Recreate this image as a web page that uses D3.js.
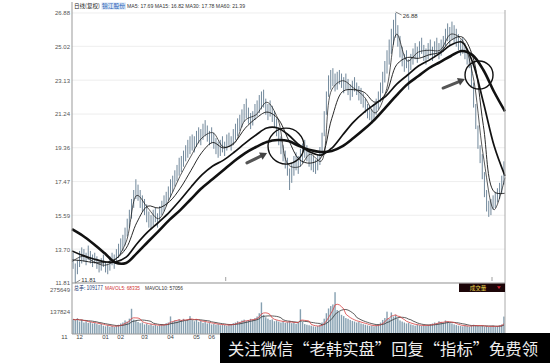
<!DOCTYPE html>
<html lang="zh">
<head>
    <meta charset="UTF-8">
    <title>锦江股份 日线</title>
    <style>
        *{
            margin: 0;
            padding: 0;
        }
        body{
            background: #fff;
        }
        #chart{
            display: block;
            font-family: "Liberation Sans", "DejaVu Sans", sans-serif;
        }
        .cjk{
            font-family: "Noto Sans CJK SC", sans-serif;
        }
    </style>
</head>
<body>
<svg id="chart" width="550" height="363"></svg>
<script src="https://cdn.jsdelivr.net/npm/d3@7/dist/d3.min.js"></script>
<script>
    /*价格轴刻度*/
    var priceTicks = [11.81, 13.70, 15.59, 17.47, 19.36, 21.24, 23.13, 25.02, 26.88];
    /*成交量刻度*/
    var volTicks = [137824, 275649];
    /*月份标签及所在K线序号*/
    var monthLabels = ["11", "12", "01", "02", "03", "04", "05", "06"];
    var monthBars = [-4, 3, 15, 22, 33, 45, 57, 64];

    /*每根K线的最低价、最高价*/
    var lows = [
        12.6, 11.81, 12.3, 12.7, 12.9, 13.0, 12.8, 13.1, 12.9, 12.7,
        12.9, 12.6, 12.4, 12.5, 12.7, 12.4, 12.3, 12.5, 12.8, 12.6,
        12.9, 13.2, 13.4, 13.6, 13.9, 14.4, 14.9, 15.4, 16.0, 16.5,
        16.4, 16.0, 15.8, 15.6, 15.2, 14.9, 14.8, 15.0, 15.2, 14.9,
        15.3, 15.6, 15.8, 16.1, 16.4, 16.6, 16.9, 17.2, 17.5, 17.8,
        18.0, 18.3, 18.6, 18.8, 19.0, 19.2, 19.1, 19.4, 19.6, 19.5,
        19.8, 20.0, 19.7, 19.5, 19.6, 19.3, 19.0, 18.8, 18.9, 19.1,
        18.9, 19.2, 19.4, 19.2, 19.5, 19.8, 20.0, 20.3, 20.5, 20.8,
        21.0, 20.7, 20.4, 20.6, 20.9, 21.1, 21.3, 21.5, 21.6, 21.2,
        20.9, 21.1, 20.8, 20.5, 20.0, 19.5, 19.0, 18.6, 18.2, 17.8,
        17.0, 17.4, 17.8, 18.1, 17.9, 18.3, 18.5, 18.8, 18.6, 18.3,
        18.1, 18.0, 17.9, 18.1, 18.4, 19.0, 20.0, 21.2, 22.2, 22.6,
        22.8, 22.5, 22.6, 22.9, 22.7, 22.4, 22.6, 22.3, 22.0, 22.2,
        22.5, 22.3, 22.0, 21.8, 21.6, 21.3, 21.0, 20.9, 20.7, 20.9,
        21.2, 21.5, 21.9, 22.4, 23.0, 23.5, 24.0, 24.6, 25.1, 25.5,
        25.0, 24.4, 23.9, 23.6, 23.8, 22.6, 23.7, 24.0, 24.3, 24.1,
        24.4, 24.6, 24.2, 24.0, 24.3, 24.5, 24.2, 24.4, 24.6, 24.3,
        24.5, 24.7, 25.0, 25.3, 25.1, 25.4, 25.2, 25.0, 24.8, 24.5,
        24.6, 24.3, 24.0, 23.8, 22.8, 21.6, 20.4, 19.3, 18.5, 17.6,
        16.6, 15.8, 15.5, 15.6, 15.9, 16.0, 16.3, 16.5, 16.8, 17.3
    ];
    var highs = [
        13.5, 12.9, 13.1, 13.6, 13.8, 13.7, 13.5, 13.9, 13.6, 13.4,
        13.5, 13.3, 13.1, 13.2, 13.4, 13.0, 12.9, 13.3, 13.5, 13.4,
        13.7, 14.0, 14.3, 14.5, 14.9, 15.4, 15.9, 16.5, 17.0, 17.6,
        17.3, 17.0, 16.7, 16.5, 16.2, 15.8, 15.6, 15.9, 16.0, 15.7,
        16.1, 16.4, 16.7, 16.9, 17.2, 17.6, 17.8, 18.1, 18.4, 18.8,
        18.9, 19.2, 19.5, 19.8, 20.0, 20.1, 20.0, 20.3, 20.5, 20.4,
        20.7, 20.9, 20.6, 20.3, 20.5, 20.2, 19.9, 19.7, 19.8, 20.0,
        19.7, 20.1, 20.2, 20.0, 20.4, 20.7, 21.0, 21.2, 21.5, 21.8,
        22.1, 21.6, 21.3, 21.4, 21.8, 22.0, 22.3, 22.5, 22.6, 22.1,
        21.8, 22.0, 21.7, 21.4, 21.0, 20.5, 20.0, 19.5, 19.2, 18.8,
        18.2, 18.5, 18.9, 19.1, 18.9, 19.3, 19.6, 19.8, 19.5, 19.2,
        19.0, 18.9, 18.7, 19.0, 19.4, 20.2, 21.4, 22.5, 23.4, 23.7,
        23.8, 23.5, 23.6, 23.7, 23.5, 23.3, 23.5, 23.2, 22.9, 23.1,
        23.3, 23.0, 22.8, 22.7, 22.4, 22.1, 21.8, 21.7, 21.5, 21.8,
        22.1, 22.5, 23.0, 23.6, 24.2, 24.8, 25.4, 26.0, 26.5, 26.88,
        26.2, 25.6, 25.0, 24.6, 24.8, 24.3, 24.6, 24.9, 25.2, 25.0,
        25.3, 25.5, 25.1, 24.9, 25.2, 25.4, 25.0, 25.3, 25.5, 25.2,
        25.4, 25.6, 26.0, 26.3, 26.1, 26.4, 26.2, 26.0, 25.7, 25.4,
        25.5, 25.2, 24.9, 24.7, 24.0, 23.0, 21.8, 20.6, 19.5, 19.0,
        18.0, 17.0, 16.4, 16.5, 16.7, 16.9, 17.1, 17.4, 17.8, 18.6
    ];
    /*成交量*/
    var volumes = [
        92000, 85000, 98000, 78000, 88000, 72000, 80000, 69000, 75000, 66000,
        70000, 62000, 58000, 64000, 52000, 48000, 55000, 46000, 50000, 44000,
        52000, 58000, 66000, 72000, 85000, 78000, 96000, 158000, 90000, 82000,
        75000, 68000, 72000, 60000, 65000, 56000, 62000, 52000, 58000, 50000,
        55000, 62000, 58000, 68000, 72000, 110000, 78000, 85000, 80000, 92000,
        88000, 95000, 84000, 90000, 112000, 86000, 80000, 92000, 76000, 82000,
        70000, 78000, 66000, 72000, 60000, 64000, 58000, 62000, 55000, 60000,
        56000, 52000, 58000, 62000, 68000, 72000, 80000, 76000, 85000, 90000,
        82000, 88000, 95000, 92000, 100000, 110000, 130000, 198000, 120000, 105000,
        96000, 88000, 92000, 80000, 85000, 78000, 72000, 80000, 70000, 74000,
        82000, 68000, 72000, 64000, 70000, 155000, 75000, 62000, 58000, 55000,
        52000, 48000, 46000, 50000, 58000, 72000, 96000, 130000, 160000, 175000,
        185000, 262000, 150000, 140000, 120000, 112000, 100000, 95000, 88000, 82000,
        78000, 72000, 76000, 66000, 62000, 58000, 54000, 50000, 52000, 48000,
        56000, 62000, 72000, 88000, 100000, 140000, 95000, 135000, 110000, 120000,
        98000, 85000, 78000, 72000, 66000, 70000, 60000, 56000, 52000, 58000,
        54000, 50000, 56000, 52000, 58000, 62000, 66000, 72000, 68000, 80000,
        76000, 72000, 85000, 78000, 70000, 66000, 60000, 56000, 52000, 50000,
        48000, 54000, 50000, 46000, 52000, 58000, 55000, 50000, 48000, 52000,
        46000, 50000, 44000, 48000, 52000, 46000, 50000, 54000, 60000, 109177
    ];

    /*均线，每5根K线读一个点*/
    var ma5 = [13.0, 13.3, 13.0, 12.8, 13.1, 14.1, 16.7, 16.0, 15.4, 16.5,
        17.8, 18.9, 19.9, 20.2, 19.4, 19.6, 20.9, 21.2, 21.9, 21.0,
        18.4, 18.3, 19.0, 18.6, 22.6, 23.1, 22.7, 22.2, 21.3, 22.5,
        25.7, 24.2, 24.7, 24.8, 24.8, 25.7, 25.4, 23.5, 18.9, 15.9, 17.69];
    var ma15 = [13.1, 13.05, 12.95, 12.95, 13.15, 13.75, 15.2, 16.1, 16.0, 16.35,
        17.1, 18.1, 19.1, 19.65, 19.35, 19.65, 20.45, 21.0, 21.35, 21.0,
        19.8, 18.7, 18.5, 18.8, 21.0, 22.5, 22.6, 22.45, 21.9, 22.4,
        24.0, 24.4, 24.35, 24.55, 24.7, 25.35, 25.55, 24.5, 20.6, 16.9, 16.82];
    var ma30 = [13.6, 13.35, 13.15, 13.0, 12.98, 13.25, 14.0, 14.66, 15.2, 15.77,
        16.44, 17.17, 17.84, 18.34, 18.67, 19.12, 19.62, 20.07, 20.46, 20.46,
        20.07, 19.51, 19.12, 18.95, 19.34, 20.07, 20.79, 21.35, 21.80, 22.24,
        22.91, 23.42, 23.92, 24.25, 24.64, 25.09, 25.26, 24.14, 21.9, 19.45, 17.78];
    var ma60 = [14.82, 14.45, 13.99, 13.48, 12.95, 12.93, 13.48, 14.10, 14.71, 15.33,
        15.88, 16.50, 17.11, 17.61, 18.12, 18.62, 19.06, 19.40, 19.68, 19.79,
        19.73, 19.45, 19.23, 19.12, 19.18, 19.45, 19.90, 20.40, 20.96, 21.63,
        22.30, 22.91, 23.36, 23.81, 24.14, 24.48, 24.76, 24.53, 23.70, 22.47, 21.39];
    var maNames = ["MA5", "MA15", "MA30", "MA60"];
    var maLast = [17.69, 16.82, 17.78, 21.39];

    /*标注：圆圈与箭头（K线序号, 价格）*/
    var circles = [[98.85, 19.45, 18], [188.0, 23.42, 14]];
    var arrows = [[80.8, 18.51, 90.1, 19.06], [171.4, 22.69, 181.5, 23.19]];
    var markBars = [71, 194];

    drawChart();

    function movingAvg(arr, n) {
        return arr.map(function (v, i) {
            return d3.mean(arr.slice(Math.max(0, i - n + 1), i + 1));
        });
    }

    function drawChart() {
        var svg = d3.select("#chart");
        var N = highs.length;
        var left = 72, right = 505;
        var x = d3.scaleLinear().domain([0, N]).range([left, right]);
        var y = d3.scaleLinear().domain([11.81, 26.88]).range([283, 13]);
        var yv = d3.scaleLinear().domain([0, 275649]).range([334, 290]);

        /*网格线*/
        svg.append("g").selectAll("line")
            .data(priceTicks)
            .enter()
            .append("line")
            .attr("x1", left).attr("x2", right)
            .attr("y1", function (d) { return y(d); })
            .attr("y2", function (d) { return y(d); })
            .attr("stroke", "#e6e6e6")
            .attr("stroke-width", 0.7);

        /*K线*/
        svg.append("g").selectAll("line")
            .data(d3.range(N))
            .enter()
            .append("line")
            .attr("x1", function (i) { return x(i + 0.5); })
            .attr("x2", function (i) { return x(i + 0.5); })
            .attr("y1", function (i) { return y(lows[i]); })
            .attr("y2", function (i) { return y(highs[i]); })
            .attr("stroke", "#71889b")
            .attr("stroke-width", 1);

        /*均线*/
        var maLine = d3.line()
            .x(function (d, k) { return x(k * 5); })
            .y(function (d) { return y(d); })
            .curve(d3.curveCatmullRom.alpha(0.5));
        var maSets = [[ma60, 2.6], [ma30, 1.7], [ma15, 0.9], [ma5, 0.7]];
        maSets.forEach(function (m) {
            svg.append("path")
                .attr("d", maLine(m[0]))
                .attr("fill", "none")
                .attr("stroke", "#111")
                .attr("stroke-width", m[1]);
        });

        /*圆圈*/
        svg.append("g").selectAll("circle")
            .data(circles)
            .enter()
            .append("circle")
            .attr("cx", function (d) { return x(d[0]); })
            .attr("cy", function (d) { return y(d[1]); })
            .attr("r", function (d) { return d[2]; })
            .attr("fill", "none")
            .attr("stroke", "#111")
            .attr("stroke-width", 1.4);

        /*箭头*/
        arrows.forEach(function (a) {
            var x1 = x(a[0]), y1 = y(a[1]), x2 = x(a[2]), y2 = y(a[3]);
            var ang = Math.atan2(y2 - y1, x2 - x1);
            var bx = x2 - 7 * Math.cos(ang), by = y2 - 7 * Math.sin(ang);
            svg.append("line")
                .attr("x1", x1).attr("y1", y1)
                .attr("x2", bx).attr("y2", by)
                .attr("stroke", "#555")
                .attr("stroke-width", 3)
                .attr("stroke-linecap", "round");
            var px = -Math.sin(ang) * 4, py = Math.cos(ang) * 4;
            svg.append("path")
                .attr("d", "M" + x2 + "," + y2 + "L" + (bx + px) + "," + (by + py) + "L" + (bx - px) + "," + (by - py) + "Z")
                .attr("fill", "#444");
        });

        /*最高最低价标注*/
        var lowIdx = d3.minIndex(lows), highIdx = d3.maxIndex(highs);
        var lx = x(lowIdx + 0.5), ly = y(lows[lowIdx]);
        svg.append("line").attr("x1", lx).attr("y1", ly).attr("x2", lx + 5).attr("y2", ly - 3)
            .attr("stroke", "#333").attr("stroke-width", 0.6);
        svg.append("text").attr("x", lx + 6).attr("y", ly - 1.5)
            .attr("font-size", 6).attr("fill", "#333")
            .text(d3.format(".2f")(lows[lowIdx]));
        var hx = x(highIdx + 0.5), hy = y(highs[highIdx]);
        svg.append("line").attr("x1", hx).attr("y1", hy - 1).attr("x2", hx + 6).attr("y2", hy + 2)
            .attr("stroke", "#333").attr("stroke-width", 0.6);
        svg.append("text").attr("x", hx + 7).attr("y", hy + 4.5)
            .attr("font-size", 6).attr("fill", "#333")
            .text(d3.format(".2f")(highs[highIdx]));

        /*小刻度标记*/
        svg.append("g").selectAll("line")
            .data(markBars)
            .enter()
            .append("line")
            .attr("x1", function (d) { return x(d); })
            .attr("x2", function (d) { return x(d); })
            .attr("y1", 277).attr("y2", 281)
            .attr("stroke", "#777").attr("stroke-width", 0.7);

        /*成交量柱*/
        svg.append("g").selectAll("rect")
            .data(volumes)
            .enter()
            .append("rect")
            .attr("x", function (d, i) { return x(i + 0.5) - 0.7; })
            .attr("width", 1.4)
            .attr("y", function (d) { return yv(d); })
            .attr("height", function (d) { return yv(0) - yv(d); })
            .attr("fill", "#86a0b1");

        var volLine = d3.line()
            .x(function (d, i) { return x(i + 0.5); })
            .y(function (d) { return yv(d); });
        svg.append("path").attr("d", volLine(movingAvg(volumes, 10)))
            .attr("fill", "none").attr("stroke", "#333").attr("stroke-width", 0.8);
        svg.append("path").attr("d", volLine(movingAvg(volumes, 5)))
            .attr("fill", "none").attr("stroke", "#d84040").attr("stroke-width", 0.8);

        /*边框*/
        svg.append("line").attr("x1", left).attr("x2", left).attr("y1", 2).attr("y2", 334)
            .attr("stroke", "#999").attr("stroke-width", 1);
        svg.append("line").attr("x1", right).attr("x2", right).attr("y1", 10).attr("y2", 334)
            .attr("stroke", "#aaa").attr("stroke-width", 1);
        svg.append("line").attr("x1", left).attr("x2", right).attr("y1", 283).attr("y2", 283)
            .attr("stroke", "#999").attr("stroke-width", 1);
        svg.append("line").attr("x1", left).attr("x2", right).attr("y1", 334).attr("y2", 334)
            .attr("stroke", "#999").attr("stroke-width", 1);

        /*坐标轴*/
        var yAxis = svg.append("g")
            .attr("transform", "translate(" + left + ",0)")
            .call(d3.axisLeft(y).tickValues(priceTicks).tickFormat(d3.format(".2f")).tickSize(0).tickPadding(2));
        yAxis.select(".domain").remove();
        yAxis.attr("font-size", 6).attr("font-family", "Liberation Sans, sans-serif");
        yAxis.selectAll("text").attr("fill", "#555");

        var vAxis = svg.append("g")
            .attr("transform", "translate(" + left + ",0)")
            .call(d3.axisLeft(yv).tickValues(volTicks).tickFormat(d3.format("d")).tickSize(0).tickPadding(2));
        vAxis.select(".domain").remove();
        vAxis.attr("font-size", 6).attr("font-family", "Liberation Sans, sans-serif");
        vAxis.selectAll("text").attr("fill", "#555");

        svg.append("g").selectAll("text")
            .data(monthLabels)
            .enter()
            .append("text")
            .attr("x", function (d, i) { return x(monthBars[i] + 0.5); })
            .attr("y", 339)
            .attr("text-anchor", "middle")
            .attr("font-size", 6)
            .attr("fill", "#444")
            .text(function (d) { return d; });

        /*顶部标题*/
        svg.append("text").attr("class", "cjk").attr("x", 74).attr("y", 8)
            .attr("font-size", 6).attr("fill", "#222")
            .attr("textLength", 26).attr("lengthAdjust", "spacingAndGlyphs")
            .text("日线(复权)");
        svg.append("rect").attr("x", 101.5).attr("y", 2.5).attr("width", 24.5).attr("height", 7)
            .attr("fill", "#d9e6f5");
        svg.append("text").attr("class", "cjk").attr("x", 102).attr("y", 8)
            .attr("font-size", 6).attr("fill", "#2a62b8")
            .attr("textLength", 23).attr("lengthAdjust", "spacingAndGlyphs")
            .text("锦江股份");
        var maText = maNames.map(function (n, i) { return n + ": " + maLast[i].toFixed(2); }).join(" ");
        svg.append("text").attr("x", 127).attr("y", 8)
            .attr("font-size", 6).attr("fill", "#333")
            .attr("textLength", 118).attr("lengthAdjust", "spacingAndGlyphs")
            .text(maText);

        /*成交量标题*/
        svg.append("text").attr("class", "cjk").attr("x", 74).attr("y", 290)
            .attr("font-size", 6).attr("fill", "#1d3b73")
            .attr("textLength", 29).attr("lengthAdjust", "spacingAndGlyphs")
            .text("总手: " + volumes[N - 1]);
        svg.append("text").attr("x", 105).attr("y", 290)
            .attr("font-size", 6).attr("fill", "#d03030")
            .attr("textLength", 35).attr("lengthAdjust", "spacingAndGlyphs")
            .text("MAVOL5: 68335");
        svg.append("text").attr("x", 145).attr("y", 290)
            .attr("font-size", 6).attr("fill", "#333")
            .attr("textLength", 38).attr("lengthAdjust", "spacingAndGlyphs")
            .text("MAVOL10: 57056");

        /*成交量按钮*/
        svg.append("rect").attr("x", 459).attr("y", 283.5).attr("width", 46).attr("height", 8.5)
            .attr("fill", "#1c0508");
        svg.append("text").attr("class", "cjk").attr("x", 478).attr("y", 290.2)
            .attr("text-anchor", "middle").attr("font-size", 5.5).attr("fill", "#e8d44d")
            .text("成交量");
        svg.append("path").attr("d", "M497,286.3L501,286.3L499,289Z").attr("fill", "#d02030");

        /*底部横幅*/
        svg.append("rect").attr("x", 220).attr("y", 333).attr("width", 330).attr("height", 30)
            .attr("fill", "#000");
        svg.append("text").attr("class", "cjk").attr("x", 228).attr("y", 355)
            .attr("font-size", 16).attr("fill", "#eeeeee")
            .attr("textLength", 310).attr("lengthAdjust", "spacingAndGlyphs")
            .text("关注微信“老韩实盘”回复“指标”免费领");
    }
</script>
</body>
</html>
